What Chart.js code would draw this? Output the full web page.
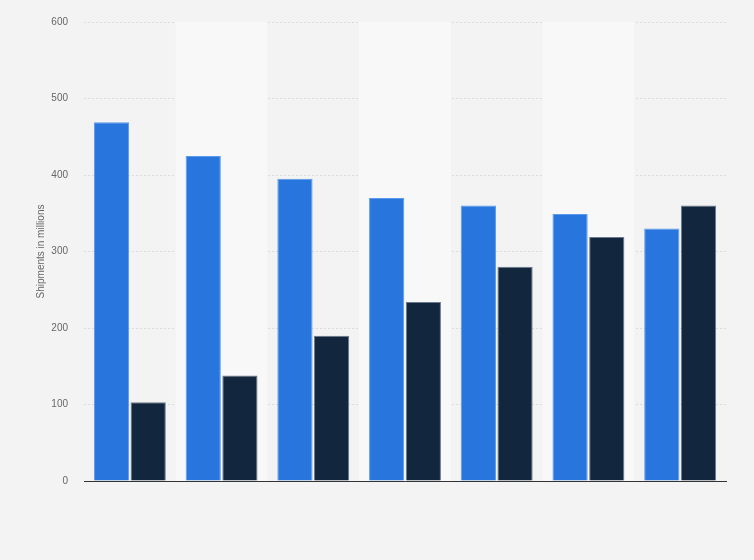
<!DOCTYPE html>
<html lang="en">
<head>
    <meta charset="UTF-8">
    <script src="https://cdn.jsdelivr.net/npm/chart.js"></script>
    <title>Shipments in millions</title>
    <style>
        html, body { margin: 0; padding: 0; background: #f3f3f3; }
        #wrap { width: 754px; height: 560px; }
    </style>
</head>
<body>
    <div id="wrap"><canvas id="shipChart"></canvas></div>

    <script>
        // category labels are not shown in the picture
        const categories = ['1', '2', '3', '4', '5', '6', '7'];
        const seriesA = [469, 425, 395, 370, 360, 349, 330];
        const seriesB = [103, 138, 190, 234, 280, 319, 360];
        const yTicks = [0, 100, 200, 300, 400, 500, 600];

        // lighter band behind every second category
        const bands = {
            id: 'bands',
            beforeDatasetsDraw(chart) {
                const { ctx, chartArea, scales } = chart;
                const x = scales.x;
                const step = x.width / categories.length;
                ctx.save();
                ctx.fillStyle = '#f8f8f8';
                for (let i = 1; i < categories.length; i += 2) {
                    ctx.fillRect(x.getPixelForValue(i) - step / 2, chartArea.top, step, chartArea.bottom - chartArea.top);
                }
                ctx.restore();
            }
        };

        let ctx = document.getElementById('shipChart').getContext('2d');
        let chart = new Chart(ctx, {
            type: 'bar',
            data: {
                labels: categories,
                datasets: [{
                    data: seriesA,
                    backgroundColor: '#2876dd',
                    borderColor: '#5a9aec',
                    borderWidth: 1
                }, {
                    data: seriesB,
                    backgroundColor: '#12263d',
                    borderColor: '#6b7a8a',
                    borderWidth: 1
                }]
            },
            options: {
                responsive: true,
                maintainAspectRatio: false,
                animation: false,
                layout: { padding: { left: 31, right: 28, top: 20, bottom: 71 } },
                plugins: { legend: { display: false }, tooltip: { enabled: false } },
                datasets: { bar: { categoryPercentage: 0.8, barPercentage: 0.96 } },
                scales: {
                    x: {
                        grid: { display: false },
                        ticks: { display: false },
                        border: { color: '#333333', width: 1 }
                    },
                    y: {
                        min: 0,
                        max: 600,
                        afterBuildTicks: s => { s.ticks = yTicks.map(v => ({ value: v })); },
                        afterFit: s => { s.width = 53; },
                        grid: { color: '#dcdcdc', drawTicks: false },
                        border: { display: false, dash: [2, 2] },
                        ticks: { color: '#666666', padding: 16, font: { family: 'Arial, Liberation Sans', size: 10 } },
                        title: {
                            display: true,
                            text: 'Shipments in millions',
                            color: '#666666',
                            font: { family: 'Arial, Liberation Sans', size: 10 }
                        }
                    }
                }
            },
            plugins: [bands]
        });
    </script>
</body>
</html>
